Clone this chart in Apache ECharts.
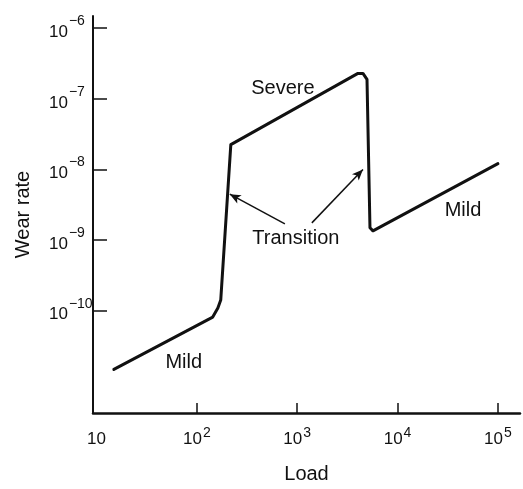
<!DOCTYPE html>
<html>
<head>
<meta charset="utf-8">
<script src="https://cdn.jsdelivr.net/npm/echarts@6/dist/echarts.min.js"></script>
<style>html,body{margin:0;padding:0;background:#fff}#c{width:523px;height:489px}</style>
</head>
<body>
<div id="c"></div>
<script>
// Wear-rate curve
const loads = [14.9, 144, 162, 173, 218, 4030, 4520, 4960, 5310, 5690, 100000];
const wearRates = [1.47e-11, 8.1e-11, 1.09e-10, 1.41e-10, 2.25e-8, 2.29e-7, 2.29e-7, 1.89e-7, 1.49e-9, 1.35e-9, 1.21e-8];

// Tick values
const xTickValues = [10, 100, 1000, 10000, 100000];
const yTickValues = [1e-10, 1e-9, 1e-8, 1e-7, 1e-6];

// Region annotations
const regionNames = ['Severe', 'Transition', 'Mild', 'Mild'];
const regionLoads = [720, 970, 44900, 74];
const regionRates = [1.41e-7, 1.04e-9, 2.58e-9, 1.84e-11];

// Transition arrows
const arrowFromLoads = [754, 1400];
const arrowFromRates = [1.69e-9, 1.75e-9];
const arrowToLoads = [213, 4520];
const arrowToRates = [4.46e-9, 1.0e-8];

const INK = '#111';
const FONT = 'Liberation Sans';

function powLabel(v) {
  const e = Math.round(Math.log10(v));
  if (e === 1) return '{b|10}';
  const s = e < 0 ? '\u2212' + (-e) : String(e);
  return '{b|10}{s|' + s + '}';
}
const richX = {
  b: { fontSize: 17, fontFamily: FONT, color: INK, lineHeight: 26, verticalAlign: 'middle' },
  s: { fontSize: 14, fontFamily: FONT, color: INK, lineHeight: 14, verticalAlign: 'top', padding: [0, 0, 0, 1] }
};
const richY = {
  b: { fontSize: 17, fontFamily: FONT, color: INK, lineHeight: 36, verticalAlign: 'middle' },
  s: { fontSize: 14, fontFamily: FONT, color: INK, lineHeight: 14, verticalAlign: 'top', padding: [0, 0, 0, 1] }
};

const chart = echarts.init(document.getElementById('c'), null, { renderer: 'canvas' });
chart.setOption({
  animation: false,
  backgroundColor: '#fff',
  grid: { left: 93, right: 3, top: 16, bottom: 72 },
  xAxis: {
    type: 'log',
    logBase: 10,
    min: 9.23,
    max: 166000,
    name: 'Load',
    nameLocation: 'middle',
    nameGap: 51,
    nameTextStyle: { fontSize: 20, fontFamily: FONT, color: INK },
    axisLine: { lineStyle: { color: INK, width: 2.5 } },
    axisTick: { inside: true, length: 10, lineStyle: { color: INK, width: 1.5 }, customValues: xTickValues.slice(1) },
    axisLabel: { margin: 13, customValues: xTickValues, formatter: powLabel, rich: richX },
    splitLine: { show: false },
    minorTick: { show: false }
  },
  yAxis: {
    type: 'log',
    logBase: 10,
    min: 3.55e-12,
    max: 1.49e-6,
    name: 'Wear rate',
    nameLocation: 'middle',
    nameGap: 60,
    nameTextStyle: { fontSize: 20, fontFamily: FONT, color: INK },
    axisLine: { lineStyle: { color: INK, width: 2 } },
    axisTick: { inside: true, length: 14, lineStyle: { color: INK, width: 1.5 }, customValues: yTickValues },
    axisLabel: { margin: 44, align: 'left', padding: [8, 0, 0, 0], customValues: yTickValues, formatter: powLabel, rich: richY },
    splitLine: { show: false },
    minorTick: { show: false }
  },
  series: [
    {
      type: 'line',
      data: loads.map((x, i) => [x, wearRates[i]]),
      showSymbol: false,
      symbol: 'none',
      lineStyle: { color: INK, width: 3, join: 'round', cap: 'round' },
      markLine: {
        silent: true,
        symbol: ['none', 'arrow'],
        symbolSize: [7, 11],
        label: { show: false },
        lineStyle: { color: INK, width: 1.5, type: 'solid' },
        data: arrowFromLoads.map((x, i) => [
          { coord: [x, arrowFromRates[i]] },
          { coord: [arrowToLoads[i], arrowToRates[i]] }
        ])
      }
    },
    {
      type: 'scatter',
      symbolSize: 0,
      itemStyle: { color: INK, opacity: 1 },
      silent: true,
      data: regionNames.map((n, i) => ({ value: [regionLoads[i], regionRates[i]], name: n })),
      label: {
        show: true,
        position: 'inside',
        formatter: p => p.name,
        fontSize: 20,
        fontFamily: FONT,
        color: INK,
        opacity: 1,
        textBorderWidth: 0
      }
    }
  ]
});
</script>
</body>
</html>
